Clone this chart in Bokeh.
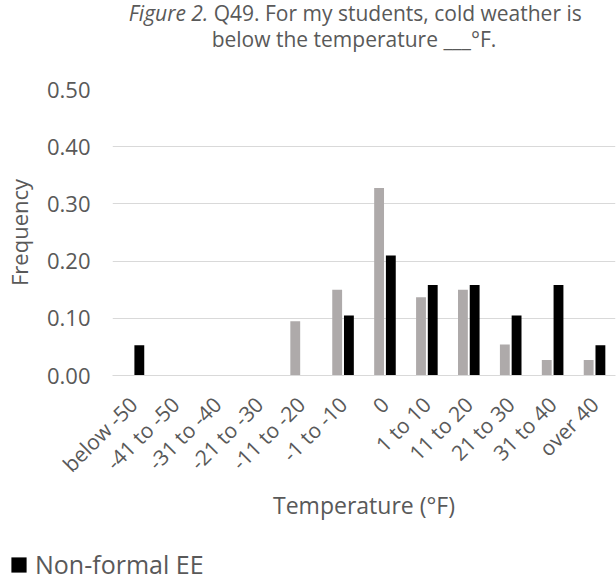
from bokeh.plotting import figure
from bokeh.models import (Range1d, FactorRange, FixedTicker, NumeralTickFormatter, Label,
                          Legend, LegendItem, ColumnDataSource)
from bokeh.transform import dodge
from bokeh.layouts import column
from bokeh.embed import file_html
from bokeh.resources import INLINE
import math

# ---- data ----
categories = ["below -50", "-41 to -50", "-31 to -40", "-21 to -30", "-11 to -20",
              "-1 to -10", "0", "1 to 10", "11 to 20", "21 to 30", "31 to 40", "over 40"]
formal_ee = [0.0, 0.0, 0.0, 0.0, 0.095, 0.150, 0.328, 0.137, 0.150, 0.054, 0.027, 0.027]
nonformal_ee = [0.053, 0.0, 0.0, 0.0, 0.0, 0.105, 0.210, 0.158, 0.158, 0.105, 0.158, 0.053]
y_ticks = [0.0, 0.1, 0.2, 0.3, 0.4, 0.5]
series_names = ["Formal EE", "Non-formal EE"]
title_italic = "Figure 2."
title_line1 = "Q49. For my students, cold weather is"
title_line2 = "below the temperature ___°F."
x_title = "Temperature (°F)"
y_title = "Frequency"

FONT = "Open Sans"
TXT = "#595959"
GRAY = "#AEAAAA"
BLACK = "#000000"

W = 616

# ---------- title strip ----------
pt = figure(width=W, height=70, output_backend="svg", toolbar_location=None,
            x_range=Range1d(0, 1), y_range=Range1d(0, 1),
            x_axis_type=None, y_axis_type=None, min_border=0)
pt.frame_align = False
pt.outline_line_color = None
pt.grid.visible = False
common = dict(x_units="screen", y_units="screen", text_font=FONT,
              text_font_size="21px", text_color=TXT, text_baseline="alphabetic")
pt.add_layout(Label(x=207.7, y=58, text=title_italic, text_align="right",
                    text_font_style="italic", **common))
pt.add_layout(Label(x=213.2, y=58, text=title_line1, text_align="left", **common))
pt.add_layout(Label(x=353.5, y=32, text=title_line2, text_align="center", **common))

# ---------- main chart ----------
src = ColumnDataSource(dict(cat=categories, formal=formal_ee, nonformal=nonformal_ee))

p = figure(width=W, height=475, output_backend="svg", toolbar_location=None,
           x_range=FactorRange(factors=categories), y_range=Range1d(0, 0.5),
           min_border_left=110, min_border_right=1, min_border_top=19,
           min_border_bottom=170)
p.frame_align = False
p.outline_line_color = None

r_formal = p.vbar(x=dodge("cat", -0.14, range=p.x_range), top="formal", width=0.235,
                  fill_color=GRAY, line_color=None, source=src)
r_non = p.vbar(x=dodge("cat", 0.14, range=p.x_range), top="nonformal", width=0.235,
               fill_color=BLACK, line_color=None, source=src)

p.xgrid.visible = False
p.ygrid.grid_line_color = "#d9d9d9"
p.ygrid.grid_line_width = 1

p.yaxis.ticker = FixedTicker(ticks=y_ticks)
p.yaxis.formatter = NumeralTickFormatter(format="0.00")
p.yaxis.axis_line_color = None
p.yaxis.major_tick_line_color = None
p.yaxis.minor_tick_line_color = None
p.yaxis.major_tick_out = 0
p.yaxis.major_tick_in = 0
p.yaxis.minor_tick_out = 0
p.yaxis.major_label_text_font = FONT
p.yaxis.major_label_text_font_size = "22px"
p.yaxis.major_label_text_color = TXT
p.yaxis.major_label_standoff = 22
p.yaxis.axis_label = y_title
p.yaxis.axis_label_text_font = FONT
p.yaxis.axis_label_text_font_size = "22px"
p.yaxis.axis_label_text_font_style = "normal"
p.yaxis.axis_label_text_color = TXT
p.yaxis.axis_label_standoff = 10

p.xaxis.axis_line_color = "#d9d9d9"
p.xaxis.major_tick_line_color = None
p.xaxis.minor_tick_line_color = None
p.xaxis.major_tick_out = 0
p.xaxis.major_tick_in = 0
p.xaxis.major_label_orientation = math.pi / 4
p.xaxis.major_label_text_font = FONT
p.xaxis.major_label_text_font_size = "21px"
p.xaxis.major_label_text_color = TXT
p.xaxis.major_label_standoff = 25
p.xaxis.axis_label = x_title
p.xaxis.axis_label_text_font = FONT
p.xaxis.axis_label_text_font_size = "23px"
p.xaxis.axis_label_text_font_style = "normal"
p.xaxis.axis_label_text_color = TXT
p.xaxis.axis_label_standoff = -2

# ---------- legend strip ----------
pl = figure(width=W, height=36, output_backend="svg", toolbar_location=None,
            x_range=Range1d(0, 1), y_range=Range1d(0, 1),
            x_axis_type=None, y_axis_type=None, min_border=0)
pl.frame_align = False
pl.outline_line_color = None
pl.grid.visible = False
# swatch renderer for the legend entry (single bar of zero height, out of view)
r_leg = pl.vbar(x=[5], top=[0], width=0.1, fill_color=BLACK, line_color=None)
legend = Legend(items=[LegendItem(label=series_names[1], renderers=[r_leg])],
                location=(9, 0), orientation="horizontal",
                padding=0, margin=0, spacing=0, glyph_width=19, glyph_height=19,
                label_standoff=7, label_text_font=FONT, label_text_font_size="25px",
                label_text_color=TXT, border_line_color=None,
                background_fill_alpha=0)
pl.add_layout(legend)

layout = column(pt, p, pl, spacing=0)
open("out.html", "w").write(file_html(layout, INLINE))
